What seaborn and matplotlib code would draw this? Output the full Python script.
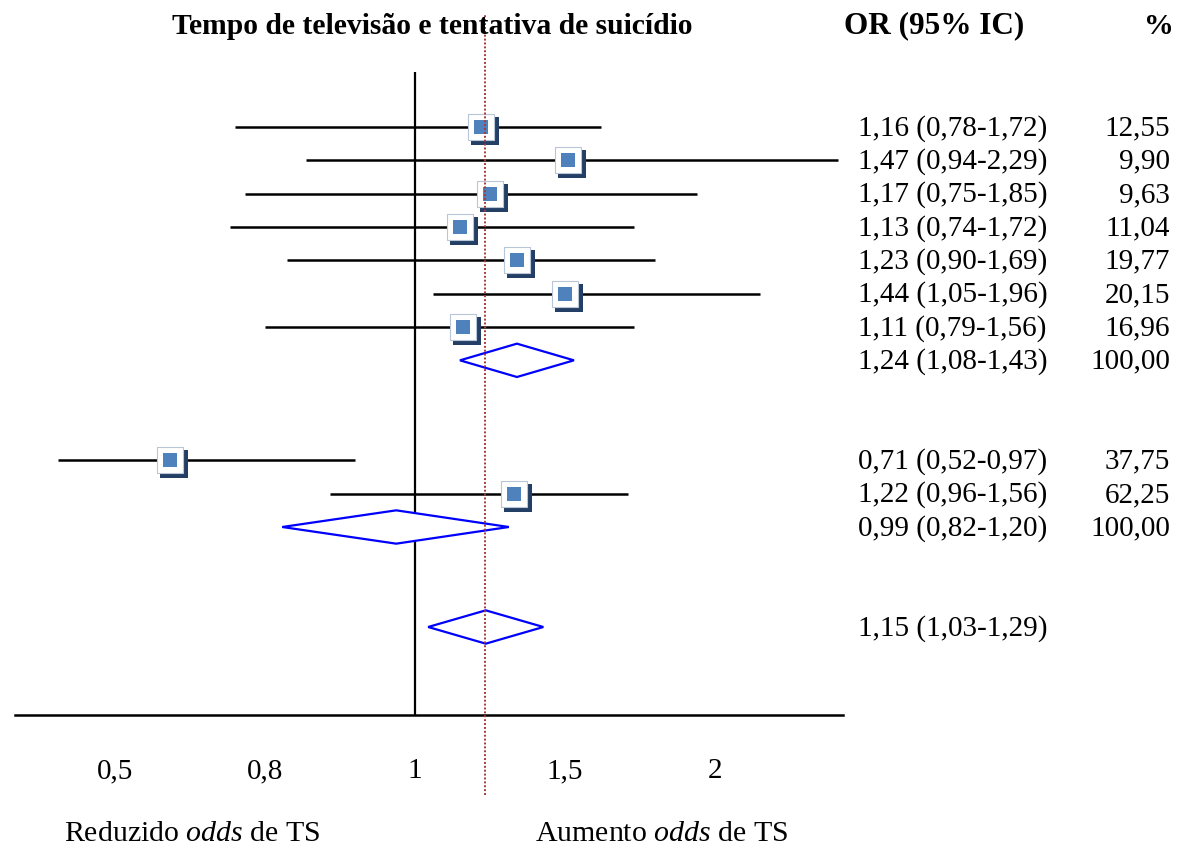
import numpy as np
import pandas as pd
import matplotlib
matplotlib.use("Agg")
import matplotlib.pyplot as plt
import matplotlib.transforms as mtransforms
from matplotlib.patches import Polygon
import seaborn as sns

sns.set_style("white")
plt.rcParams['font.family'] = ['Liberation Serif', 'DejaVu Serif']
plt.rcParams['mathtext.fontset'] = 'custom'
plt.rcParams['mathtext.rm'] = 'Liberation Serif'
plt.rcParams['mathtext.it'] = 'Liberation Serif:italic'
plt.rcParams['text.color'] = 'black'
plt.rcParams['xtick.color'] = 'black'

# Table values (right-hand columns)
g1_or = [1.16, 1.47, 1.17, 1.13, 1.23, 1.44, 1.11]
g1_lo = [0.78, 0.94, 0.75, 0.74, 0.90, 1.05, 0.79]
g1_hi = [1.72, 2.29, 1.85, 1.72, 1.69, 1.96, 1.56]
g1_w = [12.55, 9.90, 9.63, 11.04, 19.77, 20.15, 16.96]
g1_pool = [1.24, 1.08, 1.43]
g2_or = [0.71, 1.22]
g2_lo = [0.52, 0.96]
g2_hi = [0.97, 1.56]
g2_w = [37.75, 62.25]
g2_pool = [0.99, 0.82, 1.20]
overall = [1.15, 1.03, 1.29]

# Where the marks are drawn on the plotted axis (they do not follow the table)
g1_plot_or = [1.22, 1.51, 1.25, 1.15, 1.34, 1.50, 1.16]
g1_plot_lo = [0.74, 0.855, 0.76, 0.73, 0.83, 1.06, 0.80]
g1_plot_hi = [1.62, 2.41, 1.94, 1.73, 1.80, 2.15, 1.73]
g1_plot_pool = [1.34, 1.15, 1.53]
g2_plot_or = [0.61, 1.33]
g2_plot_lo = [0.386, 0.887]
g2_plot_hi = [0.92, 1.71]
g2_plot_pool = [0.975, 0.823, 1.313]
overall_plot = [1.236, 1.044, 1.428]
ref_line = 1.233

tick_vals = [0.5, 0.8, 1, 1.5, 2]
tick_labels = ["0,5", "0,8", "1", "1,5", "2"]

# rows: group 1, gap, group 2, gap, overall
gap = 2
rows_g1 = list(range(len(g1_or)))
row_p1 = len(g1_or)
rows_g2 = [row_p1 + gap + 1 + i for i in range(len(g2_or))]
row_p2 = rows_g2[-1] + 1
row_all = row_p2 + gap + 1

studies = pd.DataFrame({
    "row": rows_g1 + rows_g2,
    "est": g1_plot_or + g2_plot_or,
    "lo": g1_plot_lo + g2_plot_lo,
    "hi": g1_plot_hi + g2_plot_hi,
})

# equally spaced tick values -> piecewise scale
anchor_v = [0.2] + tick_vals + [3]
anchor_i = [-1, 0, 1, 2, 3, 4, 6]
fwd = lambda v: np.interp(v, anchor_v, anchor_i)
inv = lambda x: np.interp(x, anchor_i, anchor_v)

fig = plt.figure(figsize=(11.87, 8.48), dpi=100)
ax = fig.add_axes([15 / 1187, 1 - 715 / 848, 828 / 1187, 643 / 848])
ax.set_xscale('function', functions=(fwd, inv))

# CI lines
ax.hlines(studies["row"], studies["lo"], studies["hi"], color="black", lw=1.8, zorder=2)

# shadowed square markers
shadow = mtransforms.offset_copy(ax.transData, fig=fig, x=2.9, y=-2.9, units='points')
ax.scatter(studies["est"], studies["row"], marker="s", s=385, color="#243f66", lw=0, transform=shadow, zorder=3)
ax.scatter(studies["est"], studies["row"], marker="s", s=375, facecolor="white", edgecolor="#b9c5d8", lw=0.8, zorder=4)
sns.scatterplot(data=studies, x="est", y="row", marker="s", s=92, color="#4f81bd", linewidth=0, ax=ax, zorder=5, legend=False)

# pooled diamonds
for (est, lo, hi), r in [(g1_plot_pool, row_p1), (g2_plot_pool, row_p2), (overall_plot, row_all)]:
    ax.add_patch(Polygon([(lo, r), (est, r - 0.5), (hi, r), (est, r + 0.5)], closed=True,
                         facecolor="white", edgecolor="#0000ff", lw=1.6, zorder=4))

ax.axvline(1, color="black", lw=1.6, zorder=1)
ax.axvline(ref_line, ymin=-0.124, ymax=1.089, clip_on=False, color="#a83a3a", lw=1.4, ls=(0, (1.0, 1.0)), zorder=6)

ax.set_xlim(0.30, 2.427)
ax.set_ylim(17.64, -1.65)
ax.set_xlabel("")
ax.set_ylabel("")
ax.set_yticks([])
ax.set_xticks(tick_vals)
ax.set_xticklabels(tick_labels)
ax.tick_params(axis="x", length=0, pad=31, labelsize=21, colors="black")
for s in ["left", "right", "top"]:
    ax.spines[s].set_visible(False)
ax.spines["bottom"].set_linewidth(1.8)
ax.spines["bottom"].set_color("black")
ax.patch.set_alpha(0)

# right-hand columns
fmt = lambda v: f"{v:.2f}".replace(".", ",")
tr = mtransforms.blended_transform_factory(fig.transFigure, ax.transData)
table = []
for i in range(len(g1_or)):
    table.append((rows_g1[i], g1_or[i], g1_lo[i], g1_hi[i], g1_w[i]))
table.append((row_p1, g1_pool[0], g1_pool[1], g1_pool[2], 100))
for i in range(len(g2_or)):
    table.append((rows_g2[i], g2_or[i], g2_lo[i], g2_hi[i], g2_w[i]))
table.append((row_p2, g2_pool[0], g2_pool[1], g2_pool[2], 100))
table.append((row_all, overall[0], overall[1], overall[2], None))
for r, e, l, h, w in table:
    ax.text(858 / 1187, r + 0.04, f"{fmt(e)} ({fmt(l)}-{fmt(h)})", transform=tr, fontsize=21,
            ha="left", va="center", clip_on=False)
    if w is not None:
        ax.text(1170 / 1187, r + 0.04, fmt(w), transform=tr, fontsize=21, ha="right", va="center", clip_on=False)

# headers and footers
fig.text(432 / 1187, 1 - 26 / 848, "Tempo de televisão e tentativa de suicídio", fontsize=21.3,
         fontweight="bold", ha="center", va="center")
fig.text(934 / 1187, 1 - 26 / 848, "OR (95% IC)", fontsize=22.5, fontweight="bold", ha="center", va="center")
fig.text(1159 / 1187, 1 - 26 / 848, "%", fontsize=21.5, fontweight="bold", ha="center", va="center")
fig.text(192 / 1187, 1 - 834 / 848, r"Reduzido $\mathit{odds}$ de TS", fontsize=21.5, ha="center", va="center")
fig.text(662 / 1187, 1 - 834 / 848, r"Aumento $\mathit{odds}$ de TS", fontsize=21.5, ha="center", va="center")

fig.savefig("out.png", dpi=100, facecolor="white")
